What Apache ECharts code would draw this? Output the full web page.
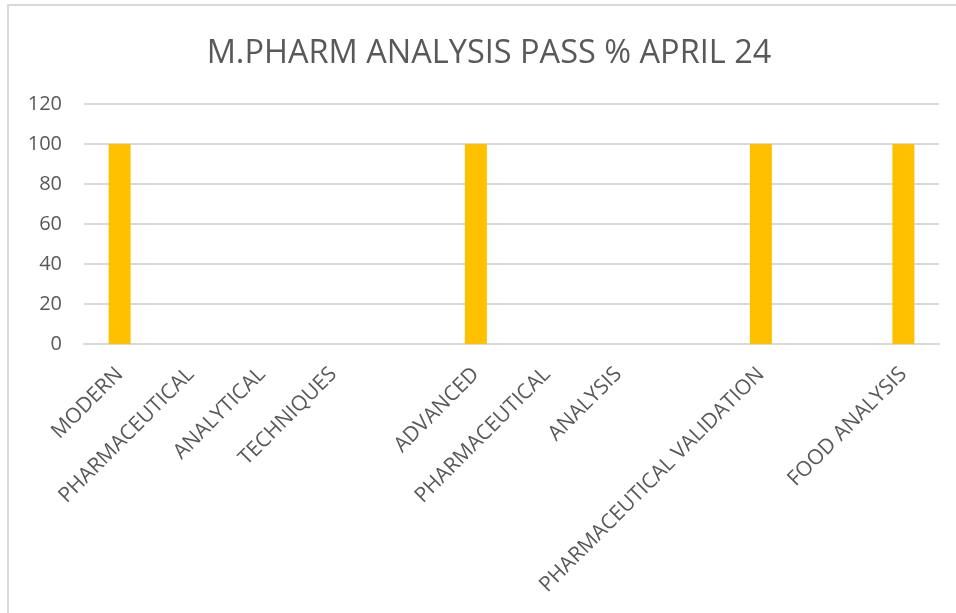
<!DOCTYPE html>
<html>
<head>
<meta charset="utf-8">
<script src="https://cdn.jsdelivr.net/npm/echarts@6/dist/echarts.min.js"></script>
<style>
  html, body { margin: 0; padding: 0; background: #fff; }
  #main { width: 956px; height: 613px; }
</style>
</head>
<body>
<div id="main"></div>
<script>
// one subject is split over several category rows, like the sheet it came from
const categories = [
  'MODERN', 'PHARMACEUTICAL', 'ANALYTICAL', 'TECHNIQUES', '',
  'ADVANCED', 'PHARMACEUTICAL', 'ANALYSIS', '',
  'PHARMACEUTICAL VALIDATION', '', 'FOOD ANALYSIS'
]
const passPercent = [100, null, null, null, null, 100, null, null, null, 100, null, 100]
const yTicks = [0, 20, 40, 60, 80, 100, 120]

const chart = echarts.init(document.getElementById('main'))

const option = {
  animation: false,
  textStyle: { fontFamily: 'Open Sans' },
  title: {
    text: 'M.PHARM ANALYSIS PASS % APRIL 24',
    left: 484,
    textAlign: 'center',
    top: 32,
    textStyle: {
      fontFamily: 'Open Sans',
      fontSize: 32.5,
      fontWeight: 'normal',
      color: '#595959'
    }
  },
  graphic: [
    {
      type: 'rect',
      shape: { x: 8, y: 5, width: 1000, height: 700 },
      style: { fill: 'none', stroke: '#D9D9D9', lineWidth: 2 },
      silent: true
    }
  ],
  grid: {
    left: 84,
    right: 17,
    top: 104,
    bottom: 269,
    containLabel: false
  },
  xAxis: {
    type: 'category',
    data: categories,
    axisTick: { show: false },
    axisLine: { lineStyle: { color: '#D9D9D9', width: 2 } },
    axisLabel: {
      interval: 0,
      rotate: 45,
      margin: 27,
      fontSize: 21,
      color: '#595959'
    }
  },
  yAxis: {
    type: 'value',
    min: yTicks[0],
    max: yTicks[yTicks.length - 1],
    interval: 20,
    axisLine: { show: false },
    axisTick: { show: false },
    axisLabel: { fontSize: 20, color: '#595959', margin: 22 },
    splitLine: { lineStyle: { color: '#D9D9D9', width: 2 } }
  },
  series: [
    {
      type: 'bar',
      data: passPercent,
      barWidth: 22,
      itemStyle: { color: '#FFC000' }
    }
  ]
}

option && chart.setOption(option)
</script>
</body>
</html>
